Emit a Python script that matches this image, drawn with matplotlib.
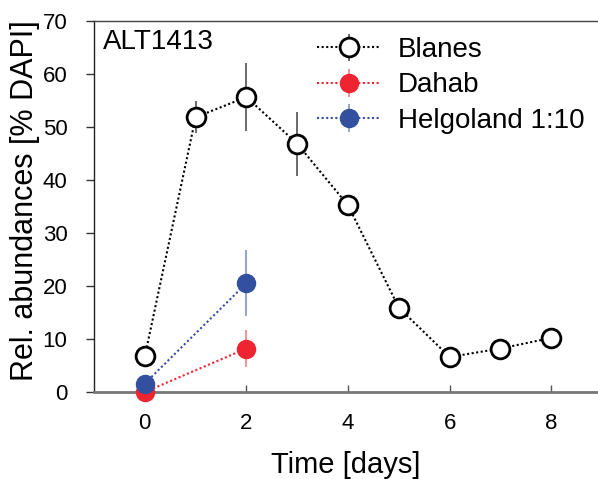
import numpy as np
import matplotlib
matplotlib.use('Agg')
from matplotlib import pyplot as plt

plt.rcParams['font.family'] = ['Liberation Sans', 'DejaVu Sans']

# values
blanes_t = [0, 1, 2, 3, 4, 5, 6, 7, 8]
blanes_y = [6.7, 51.8, 55.6, 46.8, 35.2, 15.9, 6.6, 8.2, 10.2]
blanes_err = [0, 3.0, 6.4, 6.0, 0, 0, 0, 0, 0]

dahab_t = [0, 2]
dahab_y = [0.0, 8.2]
dahab_err = [0, 3.5]

helgo_t = [0, 2]
helgo_y = [1.6, 20.5]
helgo_err = [0, 6.2]

fig = plt.figure(figsize=(5.98, 4.79), dpi=100)
ax = fig.add_axes([0.1572, 0.1816, 0.8428, 0.7752])

dots = (0, (1, 1.2))

ax.errorbar(dahab_t, dahab_y, yerr=dahab_err, color='#ee2530', ecolor='#f08088',
            elinewidth=1.2, capsize=0, ls=dots, lw=1.5, marker='o', ms=13,
            mec='#ee2530', mfc='#ee2530', clip_on=False, zorder=3, label='Dahab')
ax.errorbar(helgo_t, helgo_y, yerr=helgo_err, color='#3350a0', ecolor='#8393c8',
            elinewidth=1.2, capsize=0, ls=dots, lw=1.5, marker='o', ms=13,
            mec='#3350a0', mfc='#3350a0', clip_on=False, zorder=4, label='Helgoland 1:10')
ax.errorbar(blanes_t, blanes_y, yerr=blanes_err, color='black', ecolor='#505050',
            elinewidth=1.2, capsize=0, ls=dots, lw=1.5, marker='o', ms=13.5,
            mec='black', mfc='white', mew=2, clip_on=False, zorder=5, label='Blanes')

ax.set_xlim(-1, 8.92)
ax.set_ylim(0, 70)
ax.set_xticks([0, 2, 4, 6, 8])
ax.set_yticks(np.arange(0, 71, 10))

ax.spines['right'].set_visible(False)
ax.spines['top'].set_color('#444444')
ax.spines['top'].set_linewidth(1.0)
ax.spines['left'].set_color('#222222')
ax.spines['left'].set_linewidth(1.0)
ax.spines['bottom'].set_color('#777777')
ax.spines['bottom'].set_linewidth(2.0)

ax.tick_params(axis='x', direction='in', length=5, width=1, color='#555555',
               labelsize=16, pad=15)
ax.tick_params(axis='y', direction='out', length=6, width=1, color='#333333',
               labelsize=16, pad=13)
ax.tick_params(top=False, right=False)

ax.set_xlabel('Time [days]', fontsize=21, labelpad=12)
ax.set_ylabel('Rel. abundances [% DAPI]', fontsize=22, labelpad=2)
ax.yaxis.label.set_y(0.516)

ax.text(0.018, 0.978, 'ALT1413', transform=ax.transAxes, fontsize=20,
        va='top', ha='left')

h, l = ax.get_legend_handles_labels()
order = [2, 0, 1]
leg = ax.legend([h[i] for i in order], [l[i] for i in order], loc='upper left',
                bbox_to_anchor=(0.404, 1.008), frameon=False, fontsize=20,
                handlelength=2.3, handletextpad=0.6, labelspacing=0.33,
                borderaxespad=0.3)

fig.savefig('out.png', dpi=100)
